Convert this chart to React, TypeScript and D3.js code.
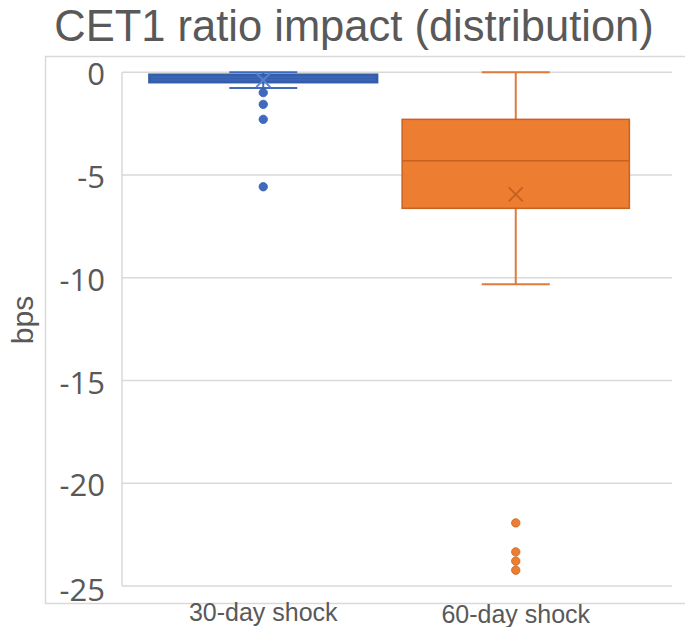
import React from "react";
import * as d3 from "d3";

const categories = ["30-day shock", "60-day shock"];
const minValues = [-0.76, -10.31];
const q1Values = [-0.47, -6.62];
const medianValues = [-0.3, -4.3];
const q3Values = [-0.13, -2.29];
const maxValues = [0, 0];
const meanValues = [-0.38, -5.94];
const outliers = [
  [-0.99, -1.56, -2.29, -5.57],
  [-21.93, -23.34, -23.79, -24.23],
];
const yTicks = [0, -5, -10, -15, -20, -25];
const labelBaselines = [621, 623];

const fills = ["#3F6AC0", "#ED7D31"];
const strokes = ["#345DAA", "#C9621E"];
const whiskerColors = ["#3F6BBB", "#E07A3A"];
const meanColors = ["#5A82CC", "#C8601E"];

const W = 685;
const H = 627;

export default function App() {
  const y = d3.scaleLinear().domain([-25, 0]).range([586, 72.3]);
  const x = d3.scaleBand<string>().domain(categories).range([137, 642]).padding(0);
  const bw = x.bandwidth();
  const boxW = bw * 0.9;
  const capW = 68;
  const grey = "#595959";
  const grid = "#d9d9d9";

  return (
    <svg
      width={W}
      height={H}
      style={{ position: "absolute", left: 0, top: 0, background: "#fff" }}
    >
      <rect x={0} y={0} width={W} height={H} fill="#fff" />
      <text
        x={354}
        y={41}
        textAnchor="middle"
        fontFamily="'Liberation Sans', Arial, sans-serif"
        fontSize={43.5}
        fill={grey}
      >
        CET1 ratio impact (distribution)
      </text>
      {/* outer frame */}
      <rect x={45.5} y={56.5} width={700} height={547} fill="none" stroke={grid} strokeWidth={1.5} />
      {/* gridlines */}
      {yTicks.map((t) => (
        <line key={t} x1={122} x2={672} y1={y(t)} y2={y(t)} stroke={grid} strokeWidth={1.5} />
      ))}
      <line x1={122} x2={122} y1={y(0)} y2={y(-25)} stroke={grid} strokeWidth={1.5} />
      {/* tick labels */}
      {yTicks.map((t) => (
        <text
          key={"l" + t}
          x={105}
          y={y(t) + 13 + (t === -25 ? 2 : 0)}
          textAnchor="end"
          fontFamily="'Open Sans', sans-serif"
          fontSize={31}
          fill={grey}
        >
          {t}
        </text>
      ))}
      <text
        transform="translate(33,320) rotate(-90)"
        textAnchor="middle"
        fontFamily="'Liberation Sans', Arial, sans-serif"
        fontSize={30}
        fill={grey}
      >
        bps
      </text>
      {/* boxes */}
      {categories.map((c, i) => {
        const cx = (x(c) as number) + bw / 2;
        const top = y(q3Values[i]);
        const bot = y(q1Values[i]);
        const ms = 7;
        const my = y(meanValues[i]);
        return (
          <g key={c}>
            <line x1={cx} x2={cx} y1={y(maxValues[i])} y2={top} stroke={whiskerColors[i]} strokeWidth={2} />
            <line x1={cx} x2={cx} y1={bot} y2={y(minValues[i])} stroke={whiskerColors[i]} strokeWidth={2} />
            <line x1={cx - capW / 2} x2={cx + capW / 2} y1={y(maxValues[i])} y2={y(maxValues[i])} stroke={whiskerColors[i]} strokeWidth={2} />
            <line x1={cx - capW / 2} x2={cx + capW / 2} y1={y(minValues[i])} y2={y(minValues[i])} stroke={whiskerColors[i]} strokeWidth={2} />
            <rect
              x={cx - boxW / 2}
              y={top}
              width={boxW}
              height={bot - top}
              fill={fills[i]}
              stroke={strokes[i]}
              strokeWidth={i === 0 ? 3 : 1.5}
            />
            <line x1={cx - boxW / 2} x2={cx + boxW / 2} y1={y(medianValues[i])} y2={y(medianValues[i])} stroke={strokes[i]} strokeWidth={1.5} />
            <path
              d={`M${cx - ms},${my - ms}L${cx + ms},${my + ms}M${cx - ms},${my + ms}L${cx + ms},${my - ms}`}
              stroke={meanColors[i]}
              strokeWidth={2}
            />
            {outliers[i].map((o, j) => (
              <circle key={j} cx={cx} cy={y(o)} r={4.2} fill={fills[i]} stroke={strokes[i]} strokeWidth={0.8} />
            ))}
            <text
              x={cx}
              y={labelBaselines[i]}
              textAnchor="middle"
              fontFamily="'Liberation Sans', Arial, sans-serif"
              fontSize={25}
              fill={grey}
            >
              {c}
            </text>
          </g>
        );
      })}
    </svg>
  );
}
